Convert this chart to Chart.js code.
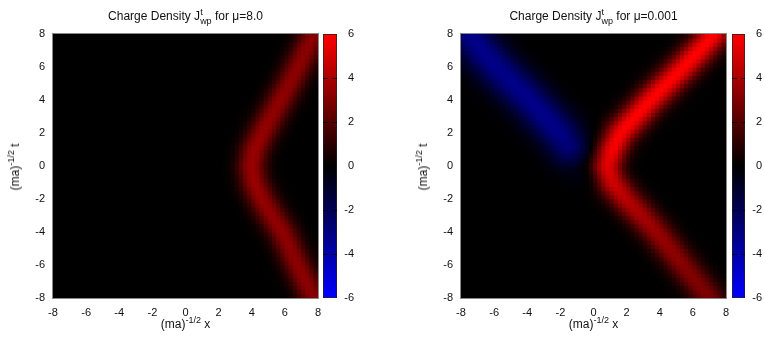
<!DOCTYPE html>
<html lang="en">
<head>
    <meta charset="UTF-8">
    <title>Charge Density</title>
    <script src="https://cdn.jsdelivr.net/npm/chart.js"></script>
    <style>
        body {
            margin: 0;
            background: #fff;
        }

        #wrap {
            position: relative;
            width: 764px;
            height: 338px;
            overflow: hidden;
        }

        canvas {
            position: absolute;
            top: 0;
        }

        .lbl {
            position: absolute;
            font: 12px "Liberation Sans", Arial, sans-serif;
            line-height: 14px;
            color: #111;
            white-space: nowrap;
        }

        .lbl sup, .lbl sub {
            font-size: 9px;
            line-height: 0;
        }

        .lbl sup { vertical-align: 5px; }
        .lbl sub { vertical-align: -4px; }
        .lbl sup.st { display: inline-block; width: 0; }

        .ttl { top: 9px; transform: translateX(-50%); }
        .xl { top: 317px; transform: translateX(-50%); }
        .yl { top: 167px; transform: translate(-50%, -50%) rotate(-90deg); }
    </style>
</head>
<body>
<div id="wrap">
    <canvas id="mapA" width="330" height="338" style="left:0"></canvas>
    <canvas id="barA" width="40" height="338" style="left:323px"></canvas>
    <canvas id="mapB" width="330" height="338" style="left:408px"></canvas>
    <canvas id="barB" width="32" height="338" style="left:732px"></canvas>

    <div class="lbl ttl" style="left:185.5px">Charge Density J<sup class="st">t</sup><sub>wp</sub> for μ=8.0</div>
    <div class="lbl ttl" style="left:593.5px">Charge Density J<sup class="st">t</sup><sub>wp</sub> for μ=0.001</div>
    <div class="lbl xl" style="left:185.5px">(ma)<sup>-1/2</sup> x</div>
    <div class="lbl xl" style="left:593.5px">(ma)<sup>-1/2</sup> x</div>
    <div class="lbl yl" style="left:15px">(ma)<sup>-1/2</sup> t</div>
    <div class="lbl yl" style="left:423px">(ma)<sup>-1/2</sup> t</div>
</div>

<script>
    // axis ticks
    const axisTicks = [-8, -6, -4, -2, 0, 2, 4, 6, 8];
    const cbTicks = [-6, -4, -2, 0, 2, 4, 6];
    const cbMax = 6;

    // crest of each ridge (t), with its height
    const ridgeT = [-8, -7, -6, -5, -4, -3, -2, -1, 0, 1, 2, 3, 4, 5, 6, 7, 8];
    const mu8CrestX = [7.8, 7.3, 6.8, 6.35, 5.9, 5.25, 4.65, 4.2, 4.0, 4.2, 4.65, 5.2, 5.75, 6.3, 6.8, 7.3, 7.8];
    const mu8CrestV = [3.2, 3.3, 3.3, 3.3, 3.4, 3.4, 3.5, 3.6, 3.6, 3.6, 3.5, 3.4, 3.4, 3.3, 3.3, 3.3, 3.2];
    const mu8Width = 0.6;

    const mu001RedX = [7.05, 6.25, 5.45, 4.65, 3.85, 2.95, 2.0, 1.2, 0.85, 1.15, 1.65, 2.55, 3.45, 4.45, 5.45, 6.4, 7.3];
    const mu001RedV = [2.9, 3.0, 3.2, 3.4, 3.6, 3.9, 4.3, 4.9, 5.4, 5.8, 5.9, 6.0, 6.0, 6.0, 6.0, 6.0, 6.0];
    const mu001RedWidth = 0.62;

    const blueT = [0, 1, 2, 3, 4, 5, 6, 7, 8];
    const mu001BlueX = [-0.7, -1.35, -2.0, -2.9, -3.8, -4.8, -5.8, -6.7, -7.4];
    const mu001BlueV = [-0.5, -2.6, -3.1, -3.2, -3.2, -3.2, -3.2, -3.2, -3.2];
    const mu001BlueWidth = 0.85;

    // map grid: 64 x 64 cells over [-8, 8]
    const nCells = 64;

    function ridgeValue(px, pt, xs, ts, vs, sigma) {
        let best = Infinity, amp = 0;
        for (let i = 0; i < xs.length - 1; i++) {
            const dx = xs[i + 1] - xs[i], dt = ts[i + 1] - ts[i];
            let u = ((px - xs[i]) * dx + (pt - ts[i]) * dt) / (dx * dx + dt * dt);
            u = Math.max(0, Math.min(1, u));
            const qx = xs[i] + u * dx, qt = ts[i] + u * dt;
            const d2 = (px - qx) ** 2 + (pt - qt) ** 2;
            if (d2 < best) {
                best = d2;
                amp = vs[i] + u * (vs[i + 1] - vs[i]);
            }
        }
        return amp * Math.exp(-best / (2 * sigma * sigma));
    }

    function heatColor(v) {
        const c = Math.max(-1, Math.min(1, v / cbMax));
        return c >= 0 ? `rgb(${Math.round(255 * c)},0,0)` : `rgb(0,0,${Math.round(-255 * c)})`;
    }

    function buildCells(ridges) {
        const pts = [], colors = [];
        const step = 16 / nCells;
        for (let j = 0; j < nCells; j++) {
            const t = -8 + step * (j + 0.5);
            for (let i = 0; i < nCells; i++) {
                const x = -8 + step * (i + 0.5);
                let v = 0;
                ridges.forEach(r => { v += ridgeValue(x, t, r.xs, r.ts, r.vs, r.w); });
                pts.push({x: x, y: t});
                colors.push(heatColor(v));
            }
        }
        return {pts, colors};
    }

    const framePlugin = {
        id: 'frame',
        afterDatasetsDraw(chart, args, opts) {
            const {ctx, chartArea: a} = chart;
            ctx.save();
            ctx.strokeStyle = opts.color || '#888';
            ctx.lineWidth = 1;
            ctx.strokeRect(a.left - 0.5, a.top - 0.5, a.right - a.left + 1, a.bottom - a.top + 1);
            ctx.restore();
        }
    };

    const tickFont = {family: '"Liberation Sans", Arial, sans-serif', size: 11};

    function makeMap(id, ridges) {
        const cells = buildCells(ridges);
        new Chart(document.getElementById(id), {
            type: 'scatter',
            data: {
                datasets: [{
                    data: cells.pts,
                    pointStyle: 'rect',
                    pointBackgroundColor: cells.colors,
                    pointBorderWidth: 0,
                    pointRadius: (c) => {
                        const a = c.chart.chartArea;
                        return a ? ((a.right - a.left) / nCells + 1) / Math.SQRT2 : 3;
                    },
                    clip: 0
                }]
            },
            options: {
                responsive: false,
                animation: false,
                events: [],
                layout: {padding: {top: 34, right: 12, left: 0, bottom: 0}},
                plugins: {legend: {display: false}, tooltip: {enabled: false}, frame: {color: '#8a8a8a'}},
                scales: {
                    x: {
                        type: 'linear', min: -8, max: 8,
                        afterFit: (s) => { s.height = 40; },
                        afterBuildTicks: (s) => { s.ticks = axisTicks.map(v => ({value: v})); },
                        grid: {display: false, drawTicks: false},
                        border: {display: false},
                        ticks: {color: '#111', font: tickFont, padding: 8, maxRotation: 0}
                    },
                    y: {
                        type: 'linear', min: -8, max: 8,
                        afterFit: (s) => { s.width = 53; },
                        afterBuildTicks: (s) => { s.ticks = axisTicks.map(v => ({value: v})); },
                        grid: {display: false, drawTicks: false},
                        border: {display: false},
                        ticks: {color: '#111', font: tickFont, padding: 8}
                    }
                }
            },
            plugins: [framePlugin]
        });
    }

    function makeBar(id, padRight) {
        new Chart(document.getElementById(id), {
            type: 'bar',
            data: {
                labels: ['cb'],
                datasets: [{
                    data: [[-cbMax, cbMax]],
                    backgroundColor: (c) => {
                        const chart = c.chart;
                        if (!chart.chartArea) return '#000';
                        const y = chart.scales.y;
                        const g = chart.ctx.createLinearGradient(0, y.getPixelForValue(-cbMax), 0, y.getPixelForValue(cbMax));
                        g.addColorStop(0, heatColor(-cbMax));
                        g.addColorStop(0.5, heatColor(0));
                        g.addColorStop(1, heatColor(cbMax));
                        return g;
                    },
                    borderColor: '#222',
                    borderWidth: 1,
                    borderSkipped: false,
                    barPercentage: 1,
                    categoryPercentage: 1
                }]
            },
            options: {
                responsive: false,
                animation: false,
                events: [],
                layout: {padding: {top: 34, bottom: 40, left: 0, right: padRight}},
                plugins: {legend: {display: false}, tooltip: {enabled: false}},
                scales: {
                    x: {display: false},
                    y: {
                        position: 'right', min: -cbMax, max: cbMax,
                        afterFit: (s) => { s.width = 17; },
                        afterBuildTicks: (s) => { s.ticks = cbTicks.map(v => ({value: v})); },
                        grid: {
                            drawTicks: false, z: 1,
                            color: (c) => (Math.abs(c.tick.value) === cbMax || c.tick.value === 0) ? 'rgba(0,0,0,0)' : 'rgba(0,0,0,0.75)',
                            lineWidth: 1
                        },
                        border: {display: false, dash: [5, 4]},
                        ticks: {color: '#111', font: tickFont, padding: 7, crossAlign: 'far'}
                    }
                }
            }
        });
    }

    makeMap('mapA', [
        {xs: mu8CrestX, ts: ridgeT, vs: mu8CrestV, w: mu8Width}
    ]);
    makeMap('mapB', [
        {xs: mu001RedX, ts: ridgeT, vs: mu001RedV, w: mu001RedWidth},
        {xs: mu001BlueX, ts: blueT, vs: mu001BlueV, w: mu001BlueWidth}
    ]);
    makeBar('barA', 9);
    makeBar('barB', 2);
</script>
</body>
</html>
